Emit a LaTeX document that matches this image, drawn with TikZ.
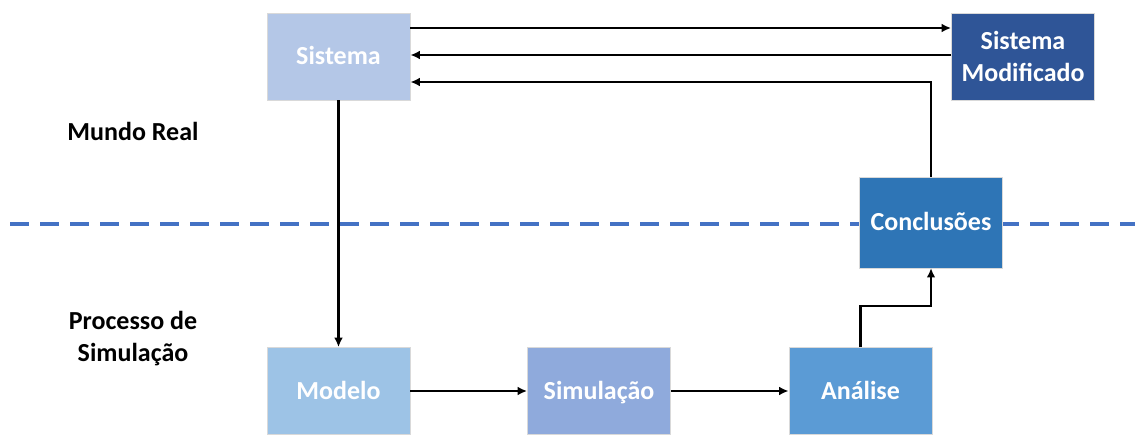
\documentclass[tikz,border=0pt]{standalone}
\usepackage{fontspec}
\setmainfont{Carlito}
\usetikzlibrary{arrows.meta}
\definecolor{cSist}{HTML}{B4C7E7}
\definecolor{cMod}{HTML}{2F5597}
\definecolor{cConc}{HTML}{2E75B6}
\definecolor{cModelo}{HTML}{9DC3E6}
\definecolor{cSim}{HTML}{8FAADC}
\definecolor{cAna}{HTML}{5B9BD5}
\definecolor{cDash}{HTML}{4472C4}
\tikzset{
  x=0.75pt, y=-0.75pt,
  stage/.style={draw=white!85!black, line width=0.4pt, minimum width=107.5pt, minimum height=65.5pt,
    inner sep=0pt, align=center, text=white, font=\bfseries\fontsize{19.5}{24}\selectfont},
  oneline/.style={text height=14pt, text depth=1.7pt},
  flow/.style={draw=black, line width=2.1pt, -{Latex[length=7pt,width=6.5pt]}},
  region/.style={font=\bfseries\fontsize{19.5}{24}\selectfont, align=center, text=black},
}
\begin{document}
\begin{tikzpicture}
\useasboundingbox (0,0) rectangle (1135,435);
% separation between the real world and the simulation process
\draw[cDash, line width=3pt, dash pattern=on 14pt off 8.5pt] (10,224) -- (1135,224);

% boxes
\node[stage, oneline, fill=cSist] (sis) at (338.5,56.5) {Sistema};
\node[stage, fill=cMod] (smod) at (1023,56.5) {Sistema\\Modificado};
\node[stage, oneline, fill=cConc, minimum height=68pt] (conc) at (931,222.5) {Conclusões};
\node[stage, oneline, fill=cModelo] (mod) at (338.5,391) {Modelo};
\node[stage, oneline, fill=cSim] (sim) at (599,391) {Simulação};
\node[stage, oneline, fill=cAna] (ana) at (860.5,391) {Análise};

% region labels
\node[region] (real) at (133,131) {Mundo Real};
\node[region] (proc) at (133,339) {Processo de\\Simulação};

% connectors
\draw[flow] (sis.east |- 0,28) -- (smod.west |- 0,28);
\draw[flow] (smod.west |- 0,55) -- (sis.east |- 0,55);
\draw[flow] (conc.north) -- (931,82) -- (sis.east |- 0,82);
\draw[flow] (sis.south) -- (mod.north);
\draw[flow] (mod.east) -- (sim.west);
\draw[flow] (sim.east) -- (ana.west);
\draw[flow] (ana.north) -- (860.5,306) -- (931,306) -- (conc.south);
\end{tikzpicture}
\end{document}
